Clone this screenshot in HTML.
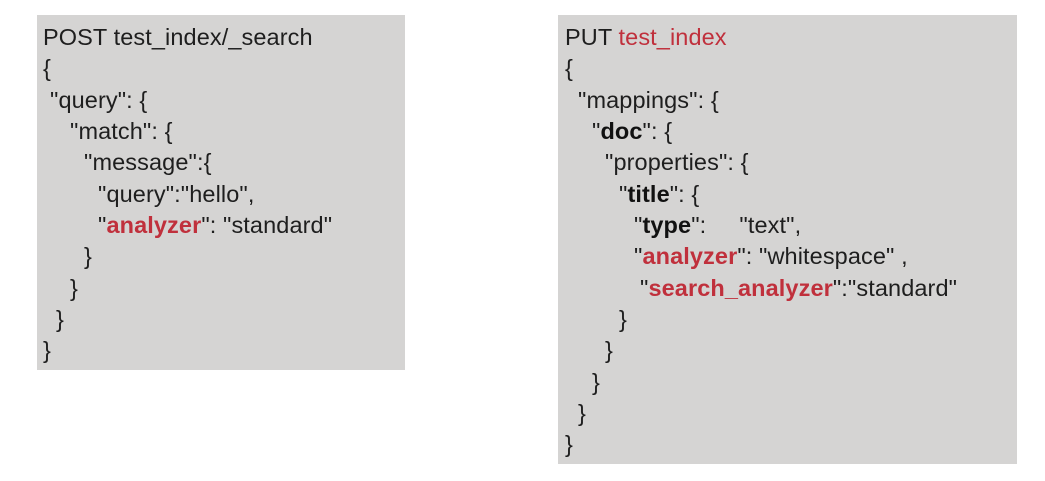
<!DOCTYPE html>
<html><head><meta charset="utf-8"><style>
body{margin:0;width:1045px;height:481px;background:#fff;position:relative;overflow:hidden;font-family:"Liberation Sans","DejaVu Sans",sans-serif;}
.box{position:absolute;background:#d5d4d3;}
.l{position:absolute;font-size:23.5px;color:#1e1e1e;white-space:pre;line-height:26px;letter-spacing:0.1px;}
.r{color:#c0303c;}
b{font-weight:bold;color:#111;}
</style></head><body>
<div class="box" style="left:37px;top:15px;width:368px;height:355px"></div>
<div class="box" style="left:558px;top:15px;width:459px;height:449px"></div>

<div class="l" style="left:43px;top:24px">POST test_index/_search</div>
<div class="l" style="left:43px;top:55px">{</div>
<div class="l" style="left:50px;top:87px">"query": {</div>
<div class="l" style="left:70px;top:118px">"match": {</div>
<div class="l" style="left:84px;top:149px">"message":{</div>
<div class="l" style="left:98px;top:181px">"query":"hello",</div>
<div class="l" style="left:98px;top:212px">"<b class="r">analyzer</b>": "standard"</div>
<div class="l" style="left:84px;top:243px">}</div>
<div class="l" style="left:70px;top:275px">}</div>
<div class="l" style="left:56px;top:306px">}</div>
<div class="l" style="left:43px;top:337px">}</div>

<div class="l" style="left:565px;top:24px">PUT <span class="r">test_index</span></div>
<div class="l" style="left:565px;top:55px">{</div>
<div class="l" style="left:578px;top:87px">"mappings": {</div>
<div class="l" style="left:592px;top:118px">"<b>doc</b>": {</div>
<div class="l" style="left:605px;top:149px">"properties": {</div>
<div class="l" style="left:619px;top:181px">"<b>title</b>": {</div>
<div class="l" style="left:634px;top:212px">"<b>type</b>":     "text",</div>
<div class="l" style="left:634px;top:243px">"<b class="r">analyzer</b>": "whitespace" ,</div>
<div class="l" style="left:640px;top:275px">"<b class="r">search_analyzer</b>":"standard"</div>
<div class="l" style="left:619px;top:306px">}</div>
<div class="l" style="left:605px;top:337px">}</div>
<div class="l" style="left:592px;top:369px">}</div>
<div class="l" style="left:578px;top:400px">}</div>
<div class="l" style="left:565px;top:431px">}</div>
</body></html>
